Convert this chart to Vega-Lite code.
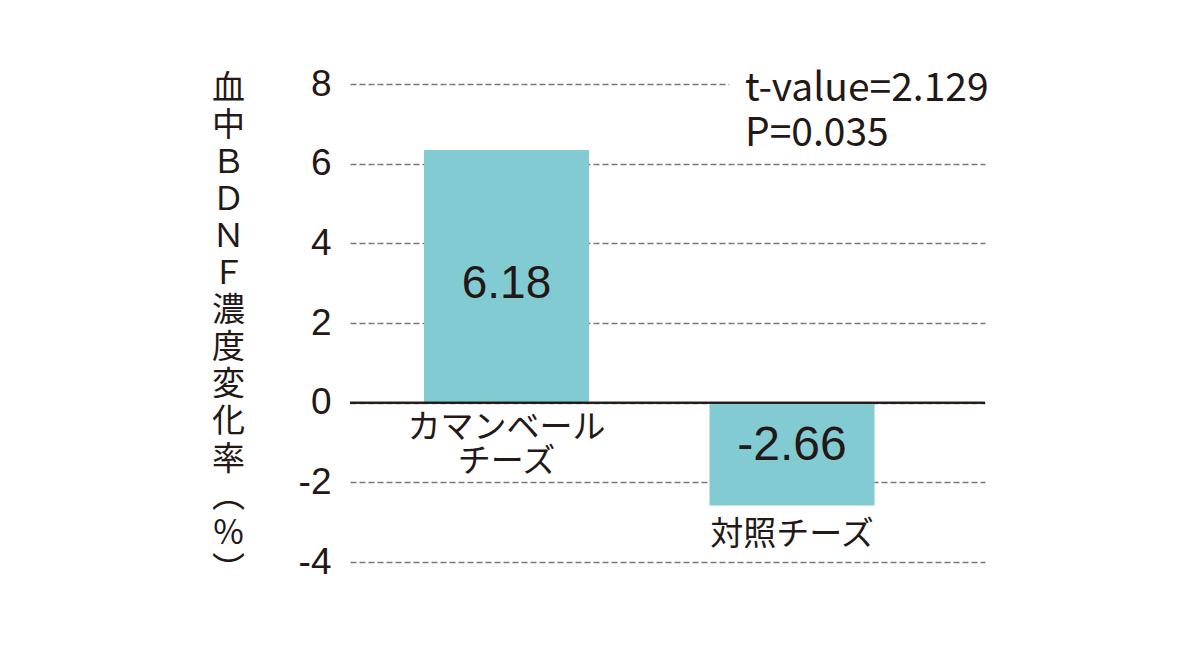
{
  "$schema": "https://vega.github.io/schema/vega-lite/v6.json",
  "width": 635,
  "height": 478,
  "autosize": {"type": "none"},
  "padding": {"left": 350, "top": 84, "right": 215, "bottom": 94},
  "background": "white",
  "config": {
    "view": {"stroke": null},
    "font": "Noto Sans CJK JP"
  },
  "data": {
    "values": [
      {"cheese": "カマンベールチーズ", "label": "カマンベール\nチーズ", "value": 6.34, "shown": "6.18"},
      {"cheese": "対照チーズ", "label": "対照チーズ", "value": -2.58, "shown": "-2.66"}
    ]
  },
  "layer": [
    {
      "mark": {"type": "bar", "color": "#82cbd3"},
      "encoding": {
        "x": {
          "field": "cheese",
          "type": "nominal",
          "sort": null,
          "scale": {"paddingInner": 0.422, "paddingOuter": 0.323, "align": 0.401},
          "axis": null
        },
        "y": {
          "field": "value",
          "type": "quantitative",
          "scale": {"domain": [-4, 8], "nice": false, "zero": false},
          "axis": {
            "values": [-4, -2, 0, 2, 4, 6, 8],
            "labelExpr": "'' + datum.value",
            "domain": false,
            "ticks": false,
            "labelFont": "Liberation Sans",
            "labelFontSize": 37,
            "labelColor": "#231815",
            "labelPadding": 19,
            "grid": true,
            "gridColor": "#777777",
            "gridDash": [6, 3],
            "gridWidth": 1.5,
            "title": ["血", "中", "Ｂ", "Ｄ", "Ｎ", "Ｆ", "濃", "度", "変", "化", "率", "︵", "％", "︶"],
            "titleAngle": 0,
            "titleFont": "Noto Sans CJK JP",
            "titleFontSize": 33,
            "titleFontWeight": "normal",
            "titleLineHeight": 37.1,
            "titleColor": "#231815",
            "titleAlign": "center",
            "titleBaseline": "middle",
            "titleX": -122,
            "titleY": 4
          }
        }
      }
    },
    {
      "mark": {"type": "rule", "color": "#231815", "strokeWidth": 2},
      "encoding": {"y": {"datum": 0}}
    },
    {
      "transform": [{"filter": "datum.value > 0"}],
      "mark": {"type": "text", "fontSize": 46, "font": "Liberation Sans", "color": "#231815", "baseline": "middle", "dy": -119},
      "encoding": {"x": {"field": "cheese", "type": "nominal", "sort": null}, "y": {"datum": 0}, "text": {"field": "shown"}}
    },
    {
      "transform": [{"filter": "datum.value < 0"}],
      "mark": {"type": "text", "fontSize": 48, "font": "Liberation Sans", "color": "#231815", "baseline": "middle", "dy": 43},
      "encoding": {"x": {"field": "cheese", "type": "nominal", "sort": null}, "y": {"datum": 0}, "text": {"field": "shown"}}
    },
    {
      "transform": [{"filter": "datum.value > 0"}],
      "mark": {"type": "text", "fontSize": 33, "color": "#231815", "baseline": "middle", "lineBreak": "\n", "lineHeight": 34, "dy": 25},
      "encoding": {"x": {"field": "cheese", "type": "nominal", "sort": null}, "y": {"datum": 0}, "text": {"field": "label"}}
    },
    {
      "transform": [{"filter": "datum.value < 0"}],
      "mark": {"type": "text", "fontSize": 33, "color": "#231815", "baseline": "middle", "dy": 30},
      "encoding": {"x": {"field": "cheese", "type": "nominal", "sort": null}, "y": {"field": "value", "type": "quantitative"}, "text": {"field": "label"}}
    },
    {
      "data": {"values": [{"note": "t-value=2.129\nP=0.035"}]},
      "mark": {"type": "text", "fontSize": 39, "color": "white", "stroke": "white", "strokeWidth": 34, "strokeJoin": "round", "align": "left", "baseline": "middle", "lineBreak": "\n", "lineHeight": 45, "dx": -47, "dy": 5},
      "encoding": {
        "x": {"datum": "対照チーズ"},
        "y": {"datum": 8},
        "text": {"field": "note"}
      }
    },
    {
      "data": {"values": [{"note": "t-value=2.129\nP=0.035"}]},
      "mark": {"type": "text", "fontSize": 39, "color": "#231815", "align": "left", "baseline": "middle", "lineBreak": "\n", "lineHeight": 45, "dx": -47, "dy": 5},
      "encoding": {
        "x": {"datum": "対照チーズ"},
        "y": {"datum": 8},
        "text": {"field": "note"}
      }
    }
  ]
}
